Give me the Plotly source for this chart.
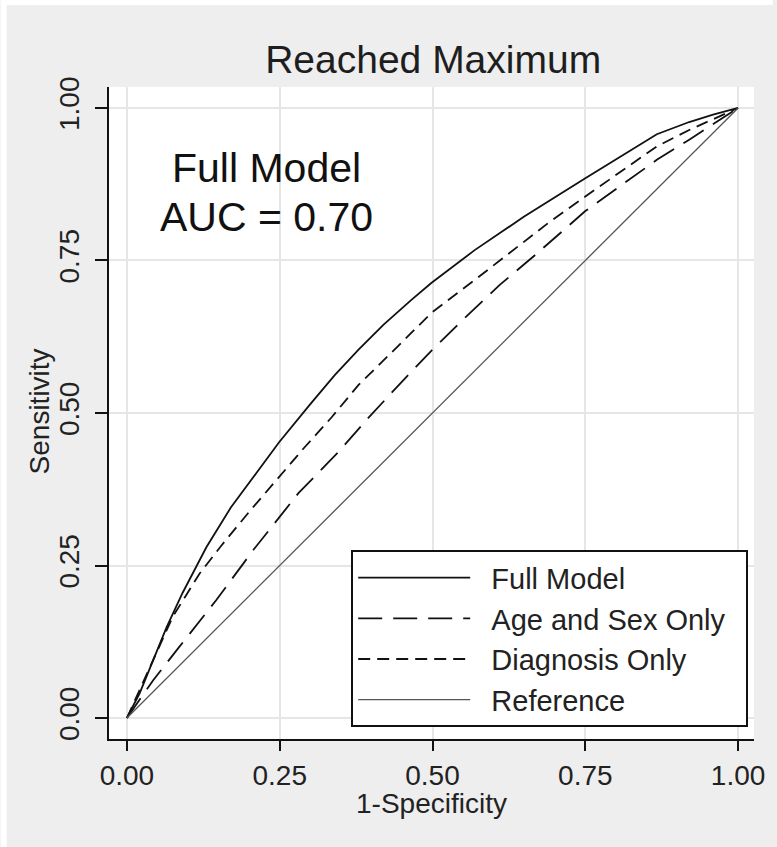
import plotly.graph_objects as go

# ---- data ----
full_x = [0, 0.021, 0.043, 0.065, 0.091, 0.130, 0.170, 0.210, 0.249, 0.298, 0.340, 0.379, 0.420, 0.465, 0.498, 0.569, 0.650, 0.750, 0.867, 0.920, 0.959, 1.0]
full_y = [0, 0.041, 0.095, 0.149, 0.205, 0.280, 0.345, 0.400, 0.452, 0.512, 0.562, 0.604, 0.645, 0.685, 0.713, 0.767, 0.822, 0.885, 0.957, 0.977, 0.989, 1.0]

agesex_x = [0, 0.043, 0.086, 0.146, 0.208, 0.281, 0.346, 0.395, 0.444, 0.498, 0.553, 0.610, 0.668, 0.750, 0.867, 0.920, 1.0]
agesex_y = [0, 0.062, 0.117, 0.193, 0.277, 0.369, 0.436, 0.492, 0.545, 0.602, 0.656, 0.710, 0.759, 0.831, 0.915, 0.948, 1.0]

diag_x = [0, 0.026, 0.075, 0.119, 0.154, 0.200, 0.244, 0.290, 0.335, 0.379, 0.444, 0.498, 0.569, 0.623, 0.690, 0.750, 0.867, 0.920, 1.0]
diag_y = [0, 0.057, 0.166, 0.237, 0.282, 0.338, 0.390, 0.443, 0.493, 0.546, 0.610, 0.664, 0.718, 0.760, 0.812, 0.855, 0.937, 0.964, 1.0]

ref_x = [0, 1]
ref_y = [0, 1]

tick_vals = [0, 0.25, 0.5, 0.75, 1.0]
tick_text = ["0.00", "0.25", "0.50", "0.75", "1.00"]

series_names = ["Full Model", "Age and Sex Only", "Diagnosis Only", "Reference"]
title_text = "Reached Maximum"
x_title = "1-Specificity"
y_title = "Sensitivity"
annot_lines = ["Full Model", "AUC = 0.70"]

FONT = "Liberation Sans, Arial, sans-serif"
NB = "\u00a0"


def legend_label(name, trailing=0):
    return NB * 2 + name + NB * trailing


fig = go.Figure()
fig.add_trace(go.Scatter(x=full_x, y=full_y, mode="lines", name=legend_label(series_names[0]),
                         line=dict(color="#111111", width=1.8)))
fig.add_trace(go.Scatter(x=agesex_x, y=agesex_y, mode="lines", name=legend_label(series_names[1], 2),
                         line=dict(color="#111111", width=1.8, dash="24px,11px")))
fig.add_trace(go.Scatter(x=diag_x, y=diag_y, mode="lines", name=legend_label(series_names[2]),
                         line=dict(color="#111111", width=1.8, dash="12px,7px")))
fig.add_trace(go.Scatter(x=ref_x, y=ref_y, mode="lines", name=legend_label(series_names[3]),
                         line=dict(color="#555555", width=1.3)))

axis_common = dict(
    showgrid=True, gridcolor="#e6e6e6", gridwidth=2,
    zeroline=False, showline=True, linecolor="#111111", linewidth=2,
    ticks="outside", tickcolor="#111111", tickwidth=2,
    tickvals=tick_vals, ticktext=tick_text,
    tickfont=dict(family=FONT, size=28, color="#222222"),
    mirror=False,
)

fig.update_layout(
    width=777, height=847,
    margin=dict(l=109, r=19, t=87, b=108),
    paper_bgcolor="#eeeeee", plot_bgcolor="#ffffff",
    font=dict(family=FONT, color="#222222"),
    title=dict(text=title_text, x=0.5575, xanchor="center", y=0.930, yanchor="middle",
               font=dict(family=FONT, size=39, color="#1e1e1e")),
    xaxis=dict(axis_common, range=[-0.0293, 1.026], ticklen=10),
    yaxis=dict(axis_common, range=[-0.0344, 1.0344], ticklen=12, tickangle=-90,
               ticklabelstandoff=5),
    legend=dict(x=0.991, xanchor="right", y=0.018, yanchor="bottom",
                bgcolor="#ffffff", bordercolor="#111111", borderwidth=2,
                font=dict(family=FONT, size=29, color="#222222"),
                itemwidth=112, tracegroupgap=0),
    showlegend=True,
)

# axis titles
fig.add_annotation(x=0.5, y=(739 - 803) / 652, xref="paper", yref="paper", text=x_title,
                   showarrow=False, xanchor="center", yanchor="middle",
                   font=dict(family=FONT, size=28, color="#222222"))
fig.add_annotation(x=(39 - 109) / 649, y=(739 - 411) / 652, xref="paper", yref="paper", text=y_title,
                   showarrow=False, xanchor="center", yanchor="middle", textangle=-90,
                   font=dict(family=FONT, size=28, color="#222222"))

# in-plot text
fig.add_annotation(x=0.229, y=0.9016, xref="x", yref="y", text=annot_lines[0], showarrow=False,
                   xanchor="center", yanchor="middle", font=dict(family=FONT, size=41, color="#111111"))
fig.add_annotation(x=0.229, y=0.8205, xref="x", yref="y", text=annot_lines[1], showarrow=False,
                   xanchor="center", yanchor="middle", font=dict(family=FONT, size=41, color="#111111"))

# thin white border strips at top and left of the image
fig.add_shape(type="rect", xref="paper", yref="paper",
              x0=-109 / 649, x1=1 + 19 / 649, y0=1 + 82 / 652, y1=1 + 87 / 652,
              line=dict(width=0), fillcolor="#ffffff", layer="below")
fig.add_shape(type="rect", xref="paper", yref="paper",
              x0=-109 / 649, x1=-103 / 649, y0=-108 / 652, y1=1 + 87 / 652,
              line=dict(width=0), fillcolor="#ffffff", layer="below")

fig.write_html("out.html", config={"displayModeBar": False},
               post_script="document.body.style.margin='0';document.body.style.overflow='hidden';")
